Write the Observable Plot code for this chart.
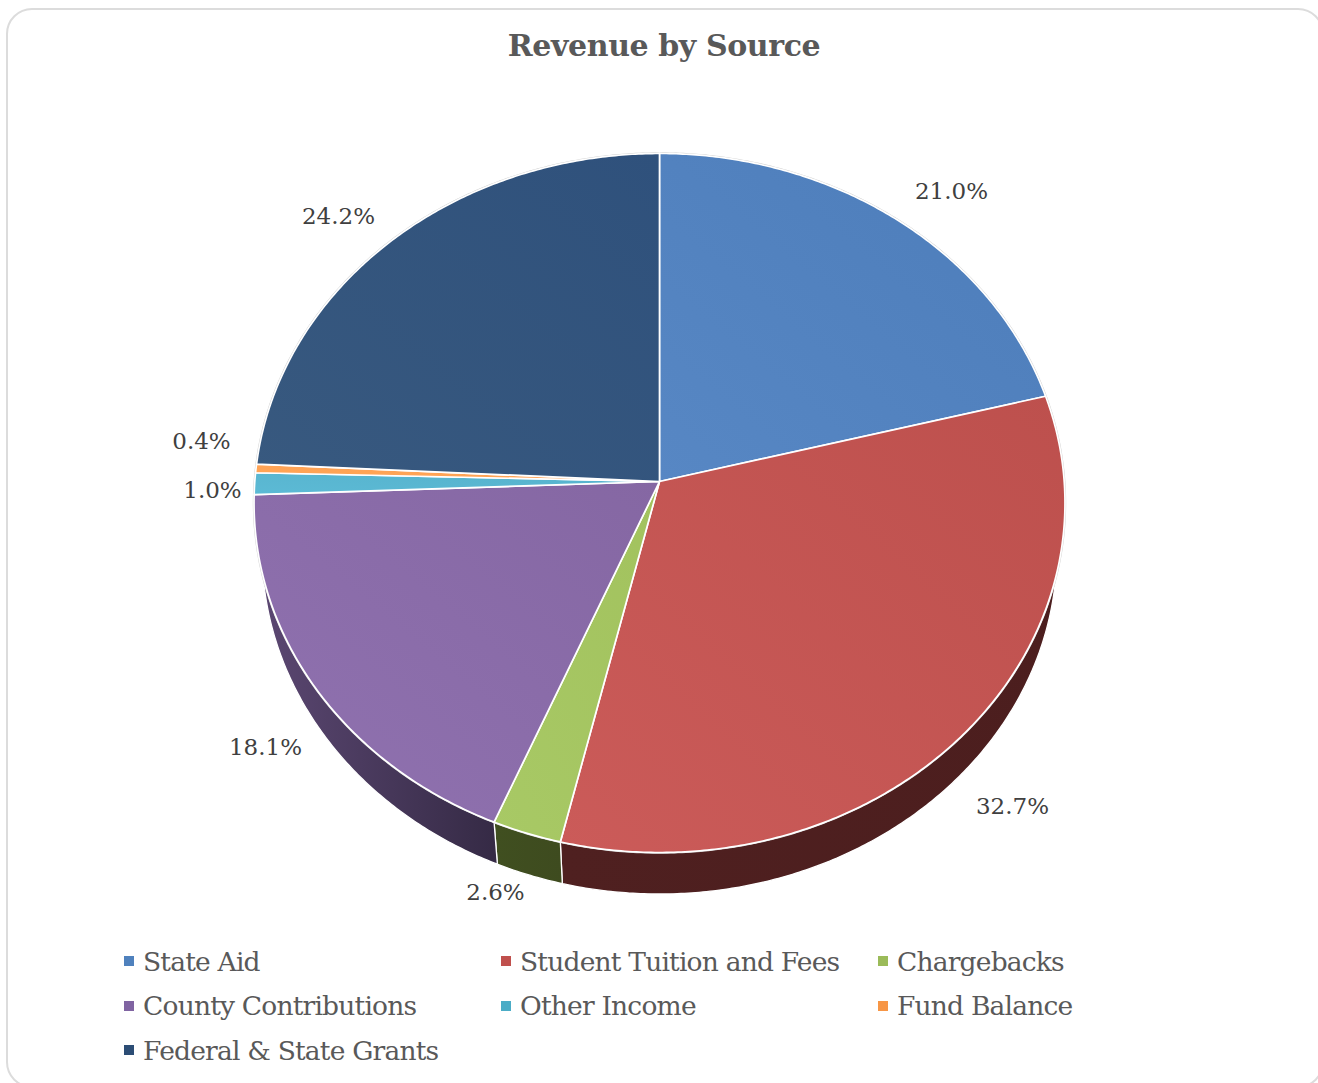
<!DOCTYPE html>
<html><head><meta charset="utf-8">
<script src="https://cdn.jsdelivr.net/npm/d3@7"></script>
<script src="https://cdn.jsdelivr.net/npm/@observablehq/plot@0.6"></script>
<style>
html,body{margin:0;padding:0;background:#fff;width:1318px;height:1083px;overflow:hidden}
#card{position:absolute;left:6px;top:8px;width:1318px;height:1080px;border:2px solid #dcdcdc;border-radius:26px;box-sizing:border-box;background:#fff}
#title{position:absolute;left:0;top:26px;width:1318px;padding-left:10px;box-sizing:border-box;text-align:center;font:bold 30px "DejaVu Serif",serif;letter-spacing:-.4px;color:#595959;line-height:40px}
#chart{position:absolute;left:0;top:100px}
#chart svg{display:block}
#legend{position:absolute;left:124px;top:939px;display:grid;grid-template-columns:377px 377px 377px;grid-auto-rows:44.5px;font:26.5px "DejaVu Serif",serif;letter-spacing:-.8px;color:#595959}
#legend div{display:flex;align-items:center;white-space:nowrap}
#legend i{display:inline-block;width:10px;height:10px;margin-right:9px}
</style></head><body>
<div id="card"></div>
<div id="title">Revenue by Source</div>
<div id="chart"></div>
<div id="legend"></div>
<script>
const categories = ["State Aid","Student Tuition and Fees","Chargebacks","County Contributions","Other Income","Fund Balance","Federal & State Grants"];
const shares = [21.0,32.7,2.6,18.1,1.0,0.4,24.2];
const swatches = ["#4f81bd","#c0504d","#9bbb59","#8064a2","#4bacc6","#f79646","#2c4d75"];
const topGradients = [["#5787c4","#4d7dba"],["#cb5b59","#bd504d"],["#a8c965","#a2c25e"],["#9072b0","#8567a3"],["#5cbad5","#56b2cc"],["#ffa658","#ffa052"],["#38597f","#2f517c"]];
const wallGradients = [["#27405e","#27405e"],["#4f2020","#4c1e1e"],["#404f20","#3e4b1f"],["#5c4873","#352a45"],["#255864","#255864"],["#7c4a22","#7c4a22"],["#1f3654","#1f3654"]];
// label anchors in the chart's x/y scale units
const labelX = [0.7215,0.8723,-0.4052,-0.9736,-1.1045,-1.1317,-0.7932];
const labelY = [0.8329,-0.9334,-1.1804,-0.7639,-0.0258,0.1149,0.7611];

// tilted disc projection
const tilt = 0.0615, wallScale = 0.98, wallDrop = 0.1405, step = 0.5;
const rim = (deg) => { const t = deg*Math.PI/180, u = Math.sin(t), v = Math.cos(t), w = 1+tilt*v; return [u/w, v/w]; };
const low = ([x,y]) => [x*wallScale, y*wallScale-wallDrop];
const arcAngles = (a,b) => { const out=[]; for(let d=a;d<b;d+=step) out.push(d); out.push(b); return out; };

const total = d3.sum(shares);
let cum = 0;
const slices = categories.map((name,i)=>{ const a=cum/total*360; cum+=shares[i]; return {name,i,a,b:cum/total*360}; });

const topPts = slices.flatMap(s=>[[0,0],...arcAngles(s.a,s.b).map(rim)].map(([x,y])=>({x,y,name:s.name,fill:`url(#top${s.i})`})));
const wallPts = slices.flatMap(s=>{ const up=arcAngles(s.a,s.b).map(rim); return [...up,...up.slice().reverse().map(low)].map(([x,y])=>({x,y,name:s.name,fill:`url(#wall${s.i})`})); });
const ringPts = arcAngles(0,360).map(rim).map(([x,y])=>({x,y}));
const labels = shares.map((v,i)=>({x:labelX[i],y:labelY[i],t:v.toFixed(1)+"%"}));

const cx=659, cy=381, rx=404.7, ry=348.2;
const svg = Plot.plot({
  width:1318,height:810,margin:0,
  x:{domain:[-1,1],range:[cx-rx,cx+rx],axis:null},
  y:{domain:[-1,1],range:[cy+ry,cy-ry],axis:null},
  color:{type:"identity"},
  marks:[
    Plot.line(wallPts,{x:"x",y:"y",z:"name",fill:"fill",stroke:"#ffffff",strokeWidth:1.3,curve:"linear-closed"}),
    Plot.line(ringPts,{x:"x",y:"y",stroke:"#cfcfcf",strokeWidth:2.4,curve:"linear-closed"}),
    Plot.line(topPts,{x:"x",y:"y",z:"name",fill:"fill",stroke:"#ffffff",strokeWidth:1.7,curve:"linear-closed"}),
    Plot.text(labels,{x:"x",y:"y",text:"t",fill:"#404040",fontSize:23,fontFamily:"DejaVu Serif",stroke:null})
  ]
});
const defs = d3.select(svg).append("defs");
const addGrad=(id,[a,b],x1,y1,x2,y2)=>{const g=defs.append("linearGradient").attr("id",id).attr("x1",x1).attr("y1",y1).attr("x2",x2).attr("y2",y2);g.append("stop").attr("offset",0).attr("stop-color",a);g.append("stop").attr("offset",1).attr("stop-color",b);};
topGradients.forEach((c,i)=>addGrad("top"+i,c,0,1,1,0));
wallGradients.forEach((c,i)=>addGrad("wall"+i,c,0,0,1,0));
document.getElementById("chart").append(svg);

const lg=d3.select("#legend");
categories.forEach((n,i)=>{const d=lg.append("div");d.append("i").style("background",swatches[i]);d.append("span").text(n);});
</script>
</body></html>
